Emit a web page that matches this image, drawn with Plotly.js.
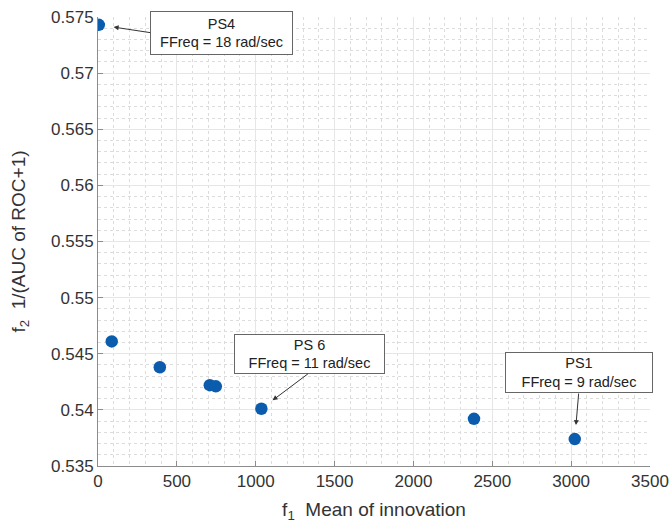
<!DOCTYPE html>
<html>
<head>
<meta charset="utf-8">
<script src="https://cdn.plot.ly/plotly-3.0.1.min.js"></script>
<style>html,body{margin:0;padding:0;background:#fff;}#chart{width:670px;height:525px;}</style>
</head>
<body>
<div id="chart"></div>
<script>
// Data
const meanInnovation = [5, 87, 392, 709, 747, 1036, 2384, 3023];
const invAucRoc      = [0.5743, 0.5461, 0.5438, 0.5422, 0.5421, 0.5401, 0.5392, 0.5374];

const xTickVals = [0, 500, 1000, 1500, 2000, 2500, 3000, 3500];
const xTickText = ['0', '500', '1000', '1500', '2000', '2500', '3000', '3500'];
const yTickVals = [0.535, 0.54, 0.545, 0.55, 0.555, 0.56, 0.565, 0.57, 0.575];
const yTickText = ['0.535', '0.54', '0.545', '0.55', '0.555', '0.56', '0.565', '0.57', '0.575'];

// Labelled points: index into the series, label lines
const labelIdx   = [0, 5, 7];
const labelTitle = ['PS4', 'PS 6', 'PS1'];
const labelFreq  = ['FFreq = 18 rad/sec', 'FFreq = 11 rad/sec', 'FFreq = 9 rad/sec'];

// style/placement of boxes and arrows (pixels, relative to the point)
const boxShift   = [[123, -8], [48, 55], [4, 67]];
const boxSize    = [[137, 38], [145, 34], [142, 35]];
const arrowTail  = [[53, 8], [48, -36], [4, -47]];
const arrowStand = [15, 14, 14];

const annFont = {family: 'Liberation Sans, Arial, sans-serif', size: 14.5, color: '#222'};
const annotations = [];
labelIdx.forEach((i, k) => {
  annotations.push({
    x: meanInnovation[i], y: invAucRoc[i], xref: 'x', yref: 'y',
    text: labelTitle[k] + '<br>' + labelFreq[k],
    showarrow: false, xshift: boxShift[k][0], yshift: boxShift[k][1],
    bgcolor: '#fff', bordercolor: '#666', borderwidth: 1, borderpad: 2,
    font: annFont, align: 'center', width: boxSize[k][0], height: boxSize[k][1]
  });
  annotations.push({
    x: meanInnovation[i], y: invAucRoc[i], xref: 'x', yref: 'y',
    text: '', showarrow: true, ax: arrowTail[k][0], ay: arrowTail[k][1],
    arrowhead: 2, arrowsize: 1, arrowwidth: 1, arrowcolor: '#333',
    standoff: arrowStand[k]
  });
});

const trace = {
  x: meanInnovation, y: invAucRoc,
  type: 'scatter', mode: 'markers',
  marker: {color: '#0b5cad', size: 12.5},
  hoverinfo: 'skip'
};

const axisCommon = {
  showline: true, linecolor: '#8c8c8c', linewidth: 1, mirror: false,
  ticks: 'inside', ticklen: 5, tickcolor: '#8c8c8c',
  showgrid: true, gridcolor: '#e6e6e6', gridwidth: 1,
  zeroline: false,
  tickfont: {family: 'Liberation Sans, Arial, sans-serif', size: 17, color: '#333'}
};

const layout = {
  width: 670, height: 525,
  margin: {l: 98, r: 20, t: 17, b: 59},
  paper_bgcolor: '#fff', plot_bgcolor: '#fff',
  showlegend: false,
  xaxis: Object.assign({}, axisCommon, {
    range: [0, 3500], tickvals: xTickVals, ticktext: xTickText,
    minor: {dtick: 100, tick0: 0, showgrid: true, griddash: 'dot', gridcolor: '#dcdcdc', gridwidth: 1, ticks: ''},
    title: {text: 'f<sub>1</sub>  Mean of innovation', standoff: 12,
      font: {family: 'Liberation Sans, Arial, sans-serif', size: 19, color: '#333'}}
  }),
  yaxis: Object.assign({}, axisCommon, {
    range: [0.535, 0.575], tickvals: yTickVals, ticktext: yTickText,
    minor: {dtick: 0.001, tick0: 0.535, showgrid: true, griddash: 'dot', gridcolor: '#dcdcdc', gridwidth: 1, ticks: ''},
    title: {text: 'f<sub>2</sub>  1/(AUC of ROC+1)', standoff: 20,
      font: {family: 'Liberation Sans, Arial, sans-serif', size: 19, color: '#333'}}
  }),
  annotations: annotations
};

Plotly.newPlot('chart', [trace], layout, {displayModeBar: false, staticPlot: true});
</script>
</body>
</html>
